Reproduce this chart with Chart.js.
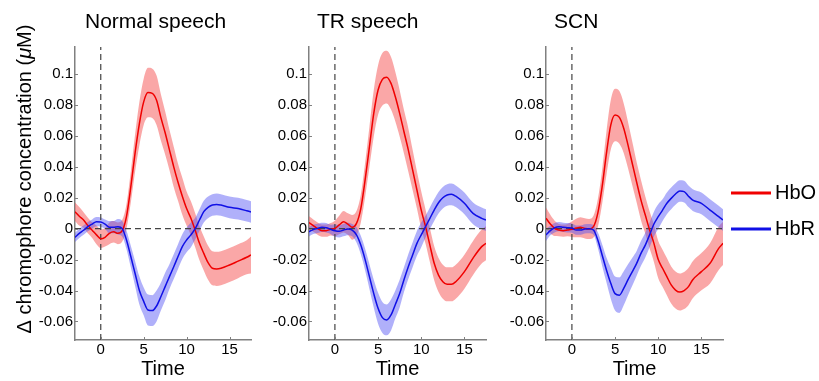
<!DOCTYPE html>
<html>
<head>
<meta charset="utf-8">
<script src="https://cdn.jsdelivr.net/npm/chart.js@4"></script>
<style>
  html, body { margin: 0; padding: 0; background: #fff; }
  #wrap { position: relative; width: 819px; height: 381px; }
  #wrap canvas { position: absolute; top: 0; }
</style>
</head>
<body>
<div id="wrap">
  <canvas id="c1" width="260" height="381" style="left:0px"></canvas>
  <canvas id="c2" width="235" height="381" style="left:260px"></canvas>
  <canvas id="c3" width="324" height="381" style="left:495px"></canvas>
</div>
<script>
/* ---------------------------------------------------------
   Data
--------------------------------------------------------- */
const times = [-3, -2.5, -2, -1.5, -1, -0.5, 0, 0.5, 1, 1.5, 2, 2.5, 3, 3.5, 4, 4.5, 5, 5.5, 6, 6.5,
  7, 7.5, 8, 8.5, 9, 9.5, 10, 10.5, 11, 11.5, 12, 12.5, 13, 13.5, 14, 15, 16, 17, 17.5];

const panelTitles = ["Normal speech", "TR speech", "SCN"];
const seriesNames = ["HbO", "HbR"];

const xTicks = [0, 5, 10, 15];
const yTicks = [-0.06, -0.04, -0.02, 0, 0.02, 0.04, 0.06, 0.08, 0.1];

// Normal speech
const normalHbO = [0.011, 0.008, 0.0056, 0.002, -0.001, -0.004, -0.0065, -0.0056, -0.003, -0.002, -0.003, -0.0013,
  0.008, 0.027, 0.049, 0.068, 0.082, 0.088, 0.0875, 0.083, 0.072, 0.062, 0.051, 0.040, 0.030, 0.021, 0.013,
  0.0067, -0.001, -0.0095, -0.016, -0.022, -0.0256, -0.026, -0.0256, -0.0235, -0.021, -0.0185, -0.017];
const normalHbOErr = [0.006, 0.006, 0.005, 0.005, 0.005, 0.006, 0.006, 0.006, 0.007, 0.007, 0.007, 0.007,
  0.008, 0.010, 0.012, 0.014, 0.015, 0.016, 0.016, 0.016, 0.015, 0.014, 0.013, 0.013, 0.012, 0.012, 0.011,
  0.011, 0.011, 0.011, 0.011, 0.011, 0.011, 0.011, 0.011, 0.011, 0.011, 0.011, 0.012];
const normalHbR = [-0.0056, -0.003, -0.001, 0.0013, 0.003, 0.0045, 0.0043, 0.003, 0.001, 0.001, 0.0013, 0,
  -0.0073, -0.018, -0.029, -0.040, -0.047, -0.0526, -0.053, -0.050, -0.044, -0.0375, -0.031, -0.0246, -0.018,
  -0.0116, -0.0073, -0.004, 0, 0.0056, 0.011, 0.0138, 0.0153, 0.0157, 0.0153, 0.0138, 0.013, 0.0116, 0.0108];
const normalHbRErr = [0.003, 0.003, 0.003, 0.003, 0.003, 0.003, 0.003, 0.003, 0.004, 0.004, 0.005, 0.005,
  0.006, 0.007, 0.008, 0.009, 0.009, 0.010, 0.010, 0.010, 0.009, 0.009, 0.008, 0.008, 0.008, 0.008, 0.008,
  0.008, 0.007, 0.007, 0.007, 0.007, 0.007, 0.007, 0.007, 0.007, 0.007, 0.007, 0.007];

// TR speech
const trHbO = [0.004, 0.002, 0, -0.0013, -0.0013, -0.0004, 0.0002, 0.0024, 0.0045, 0.003, 0.0009, 0.0034,
  0.013, 0.0315, 0.053, 0.0746, 0.0897, 0.0966, 0.098, 0.094, 0.0853, 0.0746, 0.0627, 0.051, 0.038, 0.025,
  0.012, 0.0013, -0.0106, -0.0224, -0.030, -0.0343, -0.036, -0.036, -0.0343, -0.0278, -0.019, -0.0116, -0.0095];
const trHbOErr = [0.004, 0.004, 0.004, 0.004, 0.004, 0.004, 0.005, 0.006, 0.007, 0.007, 0.008, 0.008,
  0.009, 0.011, 0.013, 0.015, 0.016, 0.017, 0.017, 0.017, 0.016, 0.015, 0.014, 0.014, 0.013, 0.012, 0.012,
  0.011, 0.011, 0.011, 0.011, 0.011, 0.011, 0.011, 0.011, 0.011, 0.011, 0.011, 0.011];
const trHbR = [-0.002, -0.0005, 0.0002, 0.0009, 0.0006, -0.0004, -0.0013, -0.0017, -0.0009, -0.0002, -0.0009, -0.004,
  -0.0106, -0.020, -0.031, -0.042, -0.0515, -0.0575, -0.059, -0.0558, -0.049, -0.042, -0.033, -0.0246, -0.017,
  -0.0095, -0.004, 0.0013, 0.0067, 0.012, 0.0168, 0.020, 0.0218, 0.0222, 0.021, 0.0164, 0.0099, 0.0067, 0.0056];
const trHbRErr = [0.003, 0.003, 0.003, 0.003, 0.003, 0.003, 0.004, 0.004, 0.004, 0.004, 0.004, 0.005,
  0.006, 0.007, 0.008, 0.009, 0.010, 0.010, 0.010, 0.010, 0.009, 0.009, 0.008, 0.008, 0.008, 0.008, 0.008,
  0.007, 0.007, 0.007, 0.007, 0.007, 0.007, 0.007, 0.007, 0.007, 0.007, 0.007, 0.007];

// SCN
const scnHbO = [0.0067, 0.003, 0.0002, -0.0009, -0.0013, -0.0009, -0.0004, 0.0004, 0.0009, 0.0002, -0.0002, 0.0013,
  0.010, 0.027, 0.0487, 0.067, 0.0735, 0.072, 0.065, 0.054, 0.042, 0.030, 0.0185, 0.0088, -0.0009, -0.0095,
  -0.020, -0.0256, -0.031, -0.0364, -0.0397, -0.041, -0.040, -0.0375, -0.033, -0.0278, -0.0224, -0.0127, -0.0095];
const scnHbOErr = [0.007, 0.006, 0.005, 0.004, 0.004, 0.004, 0.005, 0.006, 0.0065, 0.0065, 0.0065, 0.007,
  0.009, 0.011, 0.014, 0.016, 0.017, 0.017, 0.016, 0.015, 0.014, 0.013, 0.013, 0.012, 0.012, 0.012, 0.012,
  0.012, 0.012, 0.012, 0.012, 0.012, 0.012, 0.012, 0.012, 0.012, 0.013, 0.014, 0.014];
const scnHbR = [-0.004, -0.0013, 0.0006, 0.0013, 0.0009, 0.0006, 0.0004, -0.0009, -0.0009, -0.0002, 0, -0.0009,
  -0.0073, -0.017, -0.0267, -0.0353, -0.042, -0.043, -0.0386, -0.033, -0.0278, -0.0224, -0.016, -0.0106, -0.004,
  0.003, 0.0078, 0.012, 0.0164, 0.0196, 0.0224, 0.0244, 0.024, 0.021, 0.0185, 0.0164, 0.012, 0.0078, 0.0056];
const scnHbRErr = [0.004, 0.003, 0.003, 0.003, 0.003, 0.003, 0.003, 0.003, 0.003, 0.003, 0.003, 0.003,
  0.005, 0.007, 0.008, 0.010, 0.011, 0.0115, 0.011, 0.010, 0.009, 0.008, 0.008, 0.008, 0.008, 0.008, 0.008,
  0.007, 0.007, 0.007, 0.007, 0.007, 0.007, 0.007, 0.007, 0.007, 0.007, 0.007, 0.007];

const xMin = -3, xMax = 17.5;
const yMin = -0.072, yMax = 0.1175;

/* ---------------------------------------------------------
   Styling
--------------------------------------------------------- */
const FONT = "'Liberation Sans', Arial, sans-serif";
const RED = "#f00000";
const BLUE = "#1010e6";
const RED_BAND = "rgba(245, 80, 80, 0.5)";
const BLUE_BAND = "rgba(80, 80, 245, 0.45)";
const AXIS = "#808080";
const DASH = "#444444";

const pts = (ys) => times.map((t, i) => ({ x: t, y: ys[i] }));
const shift = (ys, err, s) => ys.map((v, i) => v + s * err[i]);

// draws panel title, inner tick marks, and optional extras
const decorPlugin = {
  id: "decor",
  afterDraw(chart, args, opts) {
    const ctx = chart.ctx;
    const area = chart.chartArea;
    const xs = chart.scales.x, ys = chart.scales.y;
    ctx.save();

    // inside tick marks (matlab style)
    ctx.strokeStyle = AXIS;
    ctx.lineWidth = 1;
    ys.ticks.forEach((t) => {
      const py = Math.round(ys.getPixelForValue(t.value)) + 0.5;
      ctx.beginPath(); ctx.moveTo(area.left, py); ctx.lineTo(area.left + 3, py); ctx.stroke();
    });
    xs.ticks.forEach((t) => {
      const px = Math.round(xs.getPixelForValue(t.value)) + 0.5;
      ctx.beginPath(); ctx.moveTo(px, area.bottom); ctx.lineTo(px, area.bottom - 3); ctx.stroke();
    });

    // panel title
    ctx.fillStyle = "#000";
    ctx.font = "21px " + FONT;
    ctx.textBaseline = "middle";
    ctx.textAlign = "left";
    ctx.fillText(opts.title, area.left + opts.titleOffset, 22);

    // y axis title (first panel only)
    if (opts.yTitle) {
      const parts = [
        { text: "\u0394 chromophore concentration (", font: "20px " + FONT },
        { text: "\u03bc", font: "italic 20px " + FONT },
        { text: "M)", font: "20px " + FONT },
      ];
      let total = 0;
      parts.forEach((p) => { ctx.font = p.font; p.w = ctx.measureText(p.text).width; total += p.w; });
      ctx.translate(25, 179);
      ctx.rotate(-Math.PI / 2);
      let x = -total / 2;
      parts.forEach((p) => { ctx.font = p.font; ctx.fillText(p.text, x, 0); x += p.w; });
      ctx.setTransform(1, 0, 0, 1, 0, 0);
    }

    // legend (last panel only)
    if (opts.legend) {
      const items = [{ label: seriesNames[0], color: RED }, { label: seriesNames[1], color: BLUE }];
      ctx.font = "20px " + FONT;
      items.forEach((it, i) => {
        const y = 193 + i * 36;
        ctx.strokeStyle = it.color;
        ctx.lineWidth = 3;
        ctx.beginPath(); ctx.moveTo(area.right + 8, y); ctx.lineTo(area.right + 48, y); ctx.stroke();
        ctx.fillStyle = "#000";
        ctx.fillText(it.label, area.right + 52, y);
      });
    }
    ctx.restore();
  },
};

function makePanel(canvasId, cfg) {
  const band = (data, color, order, target) => ({
    data, borderWidth: 0, pointRadius: 0, backgroundColor: color,
    fill: target === undefined ? false : { target }, order,
  });
  const line = (data, color, order) => ({
    data, borderColor: color, borderWidth: 1.5, pointRadius: 0, fill: false, order,
  });
  const dashed = (data, order) => ({
    data, borderColor: DASH, borderWidth: 1.2, borderDash: [6, 4], pointRadius: 0,
    fill: false, tension: 0, cubicInterpolationMode: "default", order,
  });

  new Chart(document.getElementById(canvasId), {
    type: "line",
    data: {
      datasets: [
        band(pts(shift(cfg.hbo, cfg.hboErr, 1)), RED_BAND, 10),
        band(pts(shift(cfg.hbo, cfg.hboErr, -1)), RED_BAND, 9, 0),
        band(pts(shift(cfg.hbr, cfg.hbrErr, 1)), BLUE_BAND, 8),
        band(pts(shift(cfg.hbr, cfg.hbrErr, -1)), BLUE_BAND, 7, 2),
        dashed([{ x: xMin, y: 0 }, { x: xMax, y: 0 }], 6),
        dashed([{ x: 0, y: yMin }, { x: 0, y: yMax }], 5),
        line(pts(cfg.hbo), RED, 4),
        line(pts(cfg.hbr), BLUE, 3),
      ],
    },
    options: {
      responsive: false,
      animation: false,
      devicePixelRatio: 1,
      layout: { padding: { left: 0, right: cfg.padRight, top: 47, bottom: 0 } },
      elements: { line: { cubicInterpolationMode: "monotone" } },
      plugins: {
        legend: { display: false },
        tooltip: { enabled: false },
        decor: { title: cfg.title, titleOffset: cfg.titleOffset, yTitle: cfg.yTitle, legend: cfg.legend },
      },
      scales: {
        x: {
          type: "linear",
          min: xMin,
          max: xMax,
          afterBuildTicks: (s) => { s.ticks = xTicks.map((v) => ({ value: v })); },
          afterFit: (s) => { s.height = 41; },
          grid: { drawOnChartArea: false, drawTicks: false },
          border: { color: AXIS, width: 1.5 },
          ticks: { color: "#000", padding: 1, font: { family: FONT, size: 15 } },
          title: { display: true, text: "Time", color: "#000", padding: 0, font: { family: FONT, size: 20 } },
        },
        y: {
          type: "linear",
          min: yMin,
          max: yMax,
          afterBuildTicks: (s) => { s.ticks = yTicks.map((v) => ({ value: v })); },
          afterFit: (s) => { s.width = cfg.yWidth; },
          grid: { drawOnChartArea: false, drawTicks: false },
          border: { color: AXIS, width: 1.5 },
          ticks: {
            color: "#000", padding: 2, font: { family: FONT, size: 15 },
            callback: (v) => String(v),
          },
        },
      },
    },
    plugins: [decorPlugin],
  });
}

makePanel("c1", { title: panelTitles[0], titleOffset: 10, yTitle: true, legend: false, yWidth: 75, padRight: 9,
  hbo: normalHbO, hboErr: normalHbOErr, hbr: normalHbR, hbrErr: normalHbRErr });
makePanel("c2", { title: panelTitles[1], titleOffset: 8, yTitle: false, legend: false, yWidth: 49, padRight: 9,
  hbo: trHbO, hboErr: trHbOErr, hbr: trHbR, hbrErr: trHbRErr });
makePanel("c3", { title: panelTitles[2], titleOffset: 8, yTitle: false, legend: true, yWidth: 51, padRight: 96,
  hbo: scnHbO, hboErr: scnHbOErr, hbr: scnHbR, hbrErr: scnHbRErr });
</script>
</body>
</html>
